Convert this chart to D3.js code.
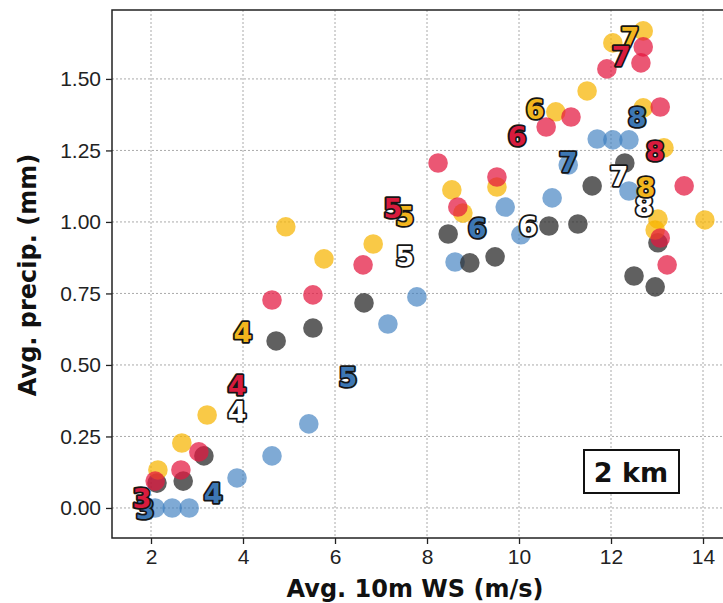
<!DOCTYPE html>
<html>
<head>
<meta charset="utf-8">
<script src="https://cdn.jsdelivr.net/npm/d3@7"></script>
<style>
  html, body { margin: 0; padding: 0; background: #fff; }
  svg { display: block; font-family: "DejaVu Sans", sans-serif; }
  .grid line { stroke: #aaa; stroke-width: 1; stroke-dasharray: 2,2; }
  .axis text { font-size: 21px; fill: #222; }
  .axis path, .axis line { stroke: #222; stroke-width: 1.3; }
  .lab { font-weight: bold; font-size: 27px; stroke: #151515; stroke-width: 3.6; paint-order: stroke; stroke-linejoin: round; }
</style>
</head>
<body>
<svg id="chart" width="723" height="603"></svg>
<script>
// ── data: [avg 10m WS, avg precip] ──
var yellowPts = [[2.15,0.133],[2.67,0.227],[3.22,0.325],[4.93,0.983],[5.76,0.871],[6.83,0.923],
  [8.54,1.112],[8.78,1.031],[9.52,1.122],[10.80,1.385],[11.48,1.458],[12.04,1.626],[12.70,1.668],
  [12.70,1.399],[13.15,1.259],[13.02,1.010],[12.96,0.972],[14.04,1.007]];
var redPts = [[2.09,0.094],[2.65,0.133],[3.04,0.196],[4.63,0.727],[5.52,0.745],[6.61,0.850],
  [8.24,1.206],[8.67,1.052],[9.52,1.157],[10.59,1.332],[11.13,1.367],[11.91,1.535],[12.70,1.612],
  [12.65,1.556],[13.07,1.402],[13.59,1.126],[13.07,0.944],[13.22,0.850]];
var bluePts = [[2.09,0.0],[2.46,0.0],[2.83,0.0],[3.87,0.105],[4.63,0.182],[5.43,0.294],[7.15,0.643],
  [7.78,0.738],[8.61,0.860],[9.70,1.052],[10.04,0.955],[10.72,1.084],[11.07,1.199],[11.70,1.290],
  [12.04,1.287],[12.39,1.287],[12.39,1.108]];
var grayPts = [[2.13,0.087],[2.70,0.094],[3.15,0.182],[4.72,0.584],[5.52,0.629],[6.63,0.717],
  [8.46,0.958],[8.93,0.857],[9.48,0.878],[10.65,0.986],[11.28,0.993],[11.59,1.126],[12.30,1.206],
  [13.02,0.927],[12.50,0.811],[12.96,0.773]];

// number markers: [x, y, text]
var grayLabels = [[3.87,0.339,'4'],[7.52,0.881,'5'],[10.20,0.986,'6'],[12.17,1.161,'7'],[12.72,1.056,'8']];
var blueLabels = [[1.87,-0.003,'3'],[3.35,0.052,'4'],[6.28,0.458,'5'],[9.09,0.979,'6'],[11.07,1.21,'7'],[12.57,1.367,'8']];
var yellowLabels = [[4.0,0.615,'4'],[7.52,1.021,'5'],[10.35,1.395,'6'],[12.41,1.647,'7'],[12.76,1.122,'8']];
var redLabels = [[1.80,0.035,'3'],[3.87,0.430,'4'],[7.26,1.049,'5'],[9.96,1.301,'6'],[12.22,1.580,'7'],[12.96,1.248,'8']];

var xTicks = [2, 4, 6, 8, 10, 12, 14];
var yTicks = [0, 0.25, 0.5, 0.75, 1.0, 1.25, 1.5];

(function () {
  'use strict';
  var svg = d3.select('#chart');
  var L = 112, R = 740, T = 10, B = 538;

  var x = d3.scaleLinear().domain([1.152, 14.804]).range([L, R]);
  var y = d3.scaleLinear().domain([-0.105, 1.741]).range([B, T]);

  svg.append('defs').append('clipPath').attr('id', 'clip')
    .append('rect').attr('x', L).attr('y', T).attr('width', R - L).attr('height', B - T);

  // grid
  var grid = svg.append('g').attr('class', 'grid');
  grid.selectAll('.gx').data(xTicks).join('line')
    .attr('x1', function (d) { return x(d); }).attr('x2', function (d) { return x(d); })
    .attr('y1', T).attr('y2', B);
  grid.selectAll('.gy').data(yTicks).join('line')
    .attr('y1', function (d) { return y(d); }).attr('y2', function (d) { return y(d); })
    .attr('x1', L).attr('x2', R);

  var plot = svg.append('g').attr('clip-path', 'url(#clip)');

  function dots(pts, color, op) {
    plot.append('g').selectAll('circle').data(pts).join('circle')
      .attr('cx', function (d) { return x(d[0]); })
      .attr('cy', function (d) { return y(d[1]); })
      .attr('r', 9.8)
      .attr('fill', color).attr('fill-opacity', op);
  }
  dots(bluePts, '#3a7cbf', 0.65);
  dots(grayPts, '#2b2b2b', 0.75);
  dots(yellowPts, '#f7b400', 0.72);
  dots(redPts, '#e3163f', 0.72);

  function labels(arr, fill) {
    plot.append('g').selectAll('text').data(arr).join('text')
      .attr('class', 'lab')
      .attr('x', function (d) { return x(d[0]); })
      .attr('y', function (d) { return y(d[1]); })
      .attr('dy', '0.36em')
      .attr('text-anchor', 'middle')
      .attr('fill', fill)
      .text(function (d) { return d[2]; });
  }
  labels(grayLabels, '#ffffff');
  labels(blueLabels, '#3d77b3');
  labels(yellowLabels, '#f2b51d');
  labels(redLabels, '#d81b3d');

  // axes
  svg.append('g').attr('class', 'axis').attr('transform', 'translate(0,' + B + ')')
    .call(d3.axisBottom(x).tickValues(xTicks).tickSize(6).tickPadding(5).tickFormat(d3.format('d')))
    .call(function (g) { g.select('.domain').remove(); });
  svg.append('g').attr('class', 'axis').attr('transform', 'translate(' + L + ',0)')
    .call(d3.axisLeft(y).tickValues(yTicks).tickSize(6).tickPadding(5).tickFormat(d3.format('.2f')))
    .call(function (g) { g.select('.domain').remove(); });

  // frame
  svg.append('rect').attr('x', L).attr('y', T).attr('width', R - L).attr('height', B - T)
    .attr('fill', 'none').attr('stroke', '#222').attr('stroke-width', 1.5);

  // axis titles
  svg.append('text').attr('x', 415).attr('y', 597).attr('text-anchor', 'middle')
    .attr('font-weight', 'bold').attr('font-size', 24).attr('fill', '#111')
    .text('Avg. 10m WS (m/s)');
  svg.append('text').attr('transform', 'translate(36,275) rotate(-90)').attr('text-anchor', 'middle')
    .attr('font-weight', 'bold').attr('font-size', 24).attr('fill', '#111')
    .text('Avg. precip. (mm)');

  // annotation box
  var box = svg.append('g');
  box.append('rect').attr('x', 584).attr('y', 450).attr('width', 95).attr('height', 43)
    .attr('fill', '#fff').attr('stroke', '#111').attr('stroke-width', 2);
  box.append('text').attr('x', 631).attr('y', 482).attr('text-anchor', 'middle')
    .attr('font-weight', 'bold').attr('font-size', 27).attr('fill', '#111').text('2 km');
})();
</script>
</body>
</html>
